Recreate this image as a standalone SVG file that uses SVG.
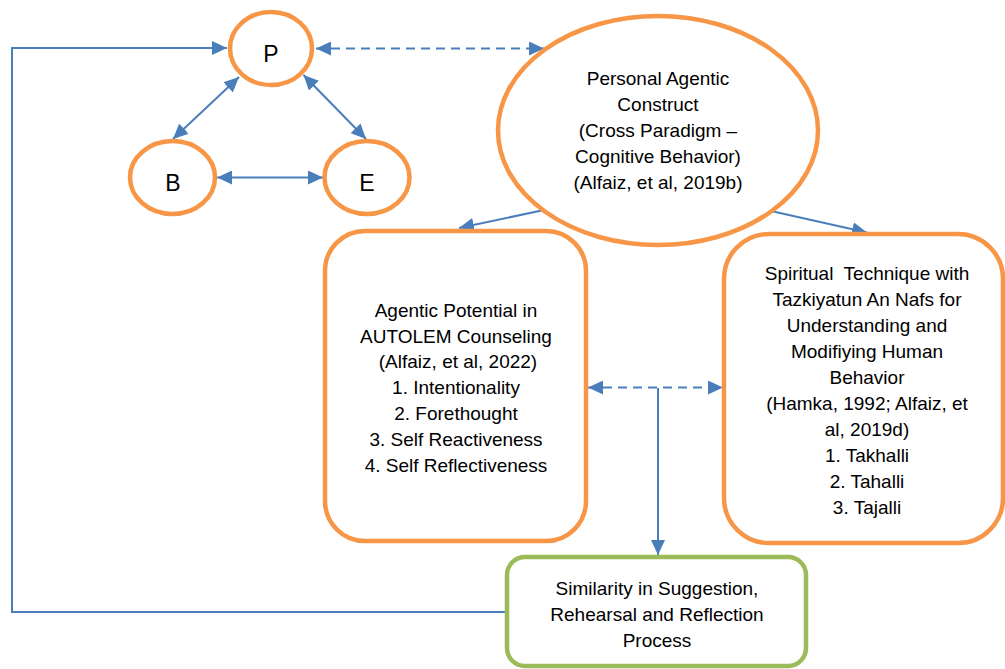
<svg xmlns="http://www.w3.org/2000/svg" width="1005" height="669" viewBox="0 0 1005 669">
<style>
.o{fill:#fff;stroke:#F79646;stroke-width:4.5}
.g{fill:#fff;stroke:#9BBB59;stroke-width:4.5}
.t{font-family:"Liberation Sans",Arial,sans-serif;font-size:19px;fill:#000;text-anchor:middle}
.big{font-size:23px}
.c{fill:none;stroke:#4A7EBB;stroke-width:2}
.d{stroke-dasharray:9 6}
</style>
<defs>
<marker id="ah" markerUnits="userSpaceOnUse" markerWidth="15" markerHeight="14" refX="15" refY="7" orient="auto-start-reverse">
<path d="M0,0 L15,7 L0,14 z" fill="#4A7EBB"/>
</marker>
</defs>
<rect width="1005" height="669" fill="#fff"/>
<g id="connectors">
<polyline class="c" points="505,612 12,612 12,48 227,48" marker-end="url(#ah)"/>
<line class="c d" x1="316" y1="48.5" x2="544" y2="48.5" marker-start="url(#ah)" marker-end="url(#ah)"/>
<line class="c" x1="239" y1="77" x2="173" y2="139" marker-start="url(#ah)" marker-end="url(#ah)"/>
<line class="c" x1="303.5" y1="75" x2="366" y2="139" marker-start="url(#ah)" marker-end="url(#ah)"/>
<line class="c" x1="217" y1="177.5" x2="323" y2="177.5" marker-start="url(#ah)" marker-end="url(#ah)"/>
<line class="c" x1="544" y1="210" x2="459" y2="228" marker-end="url(#ah)"/>
<line class="c" x1="771" y1="211" x2="867" y2="232.5" marker-end="url(#ah)"/>
<line class="c d" x1="588" y1="387.5" x2="723" y2="387.5" marker-start="url(#ah)" marker-end="url(#ah)"/>
<line class="c" x1="658" y1="388" x2="658" y2="555" marker-end="url(#ah)"/>
</g>
<g id="node-P">
<ellipse class="o" cx="271" cy="48.5" rx="41" ry="36.5"/>
<text class="t big" x="271" y="62">P</text>
</g>
<g id="node-B">
<ellipse class="o" cx="172.5" cy="177.5" rx="42.5" ry="36.5"/>
<text class="t big" x="173" y="191">B</text>
</g>
<g id="node-E">
<ellipse class="o" cx="367" cy="177.5" rx="42.5" ry="36.5"/>
<text class="t big" x="367" y="191">E</text>
</g>
<g id="node-construct">
<ellipse class="o" cx="658" cy="130.5" rx="160" ry="114.5"/>
<text class="t" x="658" y="85">Personal Agentic</text>
<text class="t" x="658" y="111">Construct</text>
<text class="t" x="658" y="137">(Cross Paradigm –</text>
<text class="t" x="658" y="163">Cognitive Behavior)</text>
<text class="t" x="658" y="189">(Alfaiz, et al, 2019b)</text>
</g>
<g id="node-agentic">
<rect class="o" x="325" y="231" width="261" height="310" rx="40"/>
<text class="t" x="456" y="317">Agentic Potential in</text>
<text class="t" x="456" y="343">AUTOLEM Counseling</text>
<text class="t" x="458" y="368">(Alfaiz, et al, 2022)</text>
<text class="t" x="456" y="394">1. Intentionality</text>
<text class="t" x="456" y="420">2. Forethought</text>
<text class="t" x="456" y="446">3. Self Reactiveness</text>
<text class="t" x="456" y="472">4. Self Reflectiveness</text>
</g>
<g id="node-spiritual">
<rect class="o" x="724" y="234" width="279" height="309" rx="45"/>
<text class="t" x="867" y="280" xml:space="preserve">Spiritual  Technique with</text>
<text class="t" x="867" y="306">Tazkiyatun An Nafs for</text>
<text class="t" x="867" y="332">Understanding and</text>
<text class="t" x="867" y="358">Modifiying Human</text>
<text class="t" x="867" y="384">Behavior</text>
<text class="t" x="867" y="410">(Hamka, 1992; Alfaiz, et</text>
<text class="t" x="867" y="436">al, 2019d)</text>
<text class="t" x="867" y="462">1. Takhalli</text>
<text class="t" x="867" y="488">2. Tahalli</text>
<text class="t" x="867" y="514">3. Tajalli</text>
</g>
<g id="node-similarity">
<rect class="g" x="507" y="557" width="299" height="109" rx="18"/>
<text class="t" x="657" y="595">Similarity in Suggestion,</text>
<text class="t" x="657" y="621">Rehearsal and Reflection</text>
<text class="t" x="657" y="647">Process</text>
</g>
</svg>
